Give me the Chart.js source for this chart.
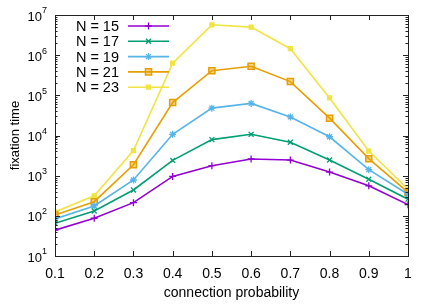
<!DOCTYPE html>
<html>
<head>
<meta charset="utf-8">
<script src="https://cdn.jsdelivr.net/npm/chart.js@4/dist/chart.umd.min.js"></script>
<style>
  html, body { margin: 0; padding: 0; background: #fff; }
</style>
</head>
<body>
<canvas id="chart" width="436" height="305"></canvas>
<script>
// connection probability on x, fixation time (log) on y
const probabilities = [0.1, 0.2, 0.3, 0.4, 0.5, 0.6, 0.7, 0.8, 0.9, 1.0];
const n15 = [44, 87, 213, 960, 1770, 2600, 2450, 1230, 560, 190];
const n17 = [65, 132, 440, 2400, 7900, 10700, 6800, 2450, 815, 260];
const n19 = [84, 176, 780, 10700, 48000, 63000, 29000, 9300, 1410, 345];
const n21 = [105, 225, 1870, 66000, 410000, 530000, 220000, 27000, 2650, 385];
const n23 = [125, 316, 4200, 630000, 5700000, 5000000, 1450000, 86000, 4100, 460];
const seriesLabels = ["N = 15", "N = 17", "N = 19", "N = 21", "N = 23"];
const xTicks = [0.1, 0.2, 0.3, 0.4, 0.5, 0.6, 0.7, 0.8, 0.9, 1.0];
const yExponents = [1, 2, 3, 4, 5, 6, 7];

const FONT = "'Liberation Sans', Arial, sans-serif";
const colors = ["#9400d3", "#009e73", "#56b4e9", "#e69f00", "#f0e442"];
const styles = ["cross", "crossRot", "star", "rect", "rect"];

function toPoints(values) {
    return values.map((v, i) => ({ x: probabilities[i], y: v }));
}

let datasets = [n15, n17, n19, n21, n23].map((vals, i) => ({
    label: seriesLabels[i],
    data: toPoints(vals),
    borderColor: colors[i],
    backgroundColor: i === 3 ? "rgba(230,159,0,0.45)" : colors[i],
    borderWidth: 1.6,
    pointStyle: styles[i],
    pointRadius: i === 3 ? 4.3 : (i === 4 ? 2.8 : 3.5),
    pointBorderWidth: i === 3 ? 1.5 : 1.3,
    pointBorderColor: colors[i],
    pointBackgroundColor: i === 3 ? "rgba(230,159,0,0.45)" : colors[i],
    tension: 0
}));

// gnuplot-like border, inward ticks, y labels with exponents, key
const framePlugin = {
    id: "frame",
    afterDraw(chart) {
        let ctx = chart.ctx;
        let a = chart.chartArea;
        let xs = chart.scales.x;
        let ys = chart.scales.y;
        ctx.save();
        ctx.strokeStyle = "#222";
        ctx.lineWidth = 1;
        ctx.strokeRect(Math.round(a.left) + 0.5, Math.round(a.top) + 0.5,
            Math.round(a.right - a.left), Math.round(a.bottom - a.top));

        ctx.beginPath();
        xTicks.forEach(v => {
            let px = Math.round(xs.getPixelForValue(v)) + 0.5;
            ctx.moveTo(px, a.bottom); ctx.lineTo(px, a.bottom - 5);
            ctx.moveTo(px, a.top); ctx.lineTo(px, a.top + 5);
        });
        yExponents.forEach(e => {
            for (let m = 1; m <= 9; m++) {
                if (e === 7 && m > 1) break;
                let py = Math.round(ys.getPixelForValue(m * Math.pow(10, e))) + 0.5;
                let len = m === 1 ? 5 : 2.5;
                ctx.moveTo(a.left, py); ctx.lineTo(a.left + len, py);
                ctx.moveTo(a.right, py); ctx.lineTo(a.right - len, py);
            }
        });
        ctx.stroke();

        // y tick labels 10^e
        ctx.fillStyle = "#000";
        ctx.textBaseline = "middle";
        yExponents.forEach(e => {
            let py = ys.getPixelForValue(Math.pow(10, e));
            ctx.font = "9px " + FONT;
            let ew = ctx.measureText(String(e)).width;
            let right = a.left - 8;
            ctx.textAlign = "left";
            ctx.fillText(String(e), right - ew, py - 4);
            ctx.font = "13px " + FONT;
            ctx.textAlign = "right";
            ctx.fillText("10", right - ew, py + 2);
        });

        // key
        chart.data.datasets.forEach((ds, i) => {
            let y = 26 + i * 15.3;
            ctx.font = "14.5px " + FONT;
            ctx.textAlign = "right";
            ctx.fillStyle = "#000";
            ctx.fillText(ds.label, 119, y + 1);
            ctx.strokeStyle = ds.borderColor;
            ctx.lineWidth = ds.borderWidth;
            ctx.beginPath();
            ctx.moveTo(128, y); ctx.lineTo(169, y);
            ctx.stroke();
            ctx.fillStyle = ds.pointBackgroundColor;
            ctx.strokeStyle = ds.pointBorderColor;
            ctx.lineWidth = ds.pointBorderWidth;
            Chart.helpers.drawPoint(ctx, {
                pointStyle: ds.pointStyle,
                radius: ds.pointRadius,
                rotation: 0,
                borderWidth: ds.pointBorderWidth
            }, 148.5, y);
        });
        ctx.restore();
    }
};

let chart = new Chart(document.getElementById("chart").getContext("2d"), {
    type: "line",
    data: { datasets: datasets },
    options: {
        responsive: false,
        animation: false,
        layout: { padding: { left: 0, right: 28, top: 15, bottom: 0 } },
        plugins: { legend: { display: false }, tooltip: { enabled: false } },
        scales: {
            x: {
                type: "linear",
                min: 0.1,
                max: 1,
                grid: { display: false },
                border: { display: false },
                afterBuildTicks: s => { s.ticks = xTicks.map(v => ({ value: v })); },
                afterFit: s => { s.height = 49; },
                ticks: {
                    color: "#000",
                    padding: 2,
                    maxRotation: 0,
                    autoSkip: false,
                    font: { family: FONT, size: 14 },
                    callback: v => String(+v.toFixed(1))
                },
                title: {
                    display: true,
                    text: "connection probability",
                    color: "#000",
                    font: { family: FONT, size: 14 },
                    padding: { top: 0, bottom: 3 }
                }
            },
            y: {
                type: "logarithmic",
                min: 10,
                max: 1e7,
                grid: { display: false },
                border: { display: false },
                afterFit: s => { s.width = 55; },
                ticks: { display: false },
                title: {
                    display: true,
                    text: "fixation time",
                    color: "#000",
                    font: { family: FONT, size: 13 },
                    padding: { top: 8, bottom: 0 }
                }
            }
        }
    },
    plugins: [framePlugin]
});
</script>
</body>
</html>
